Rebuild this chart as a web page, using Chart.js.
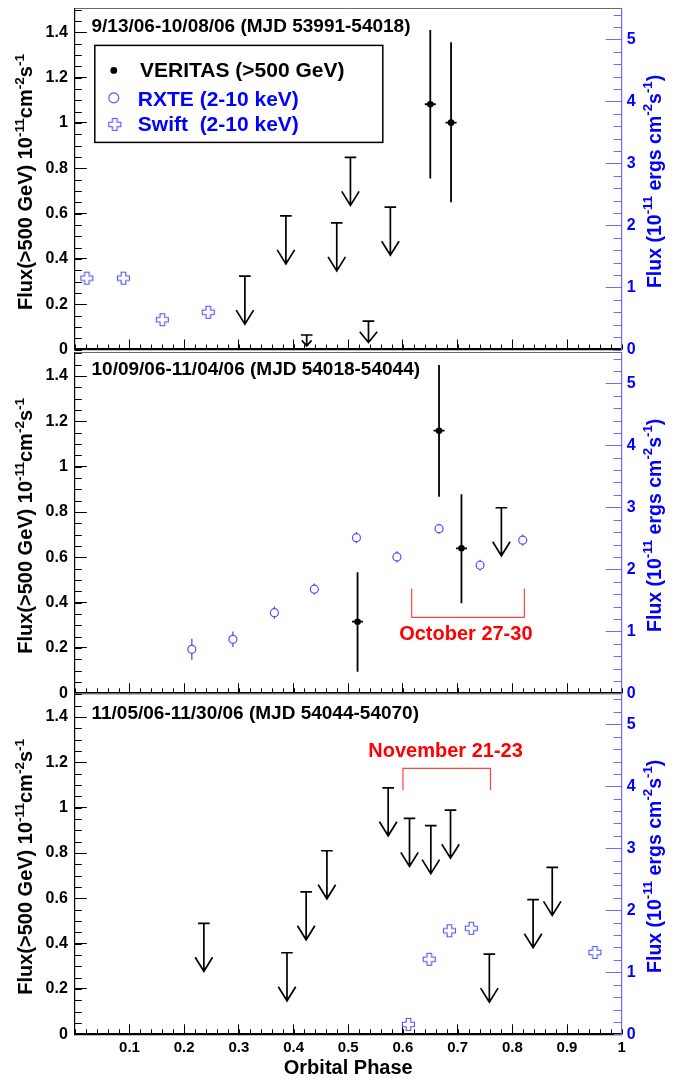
<!DOCTYPE html>
<html><head><meta charset="utf-8">
<script src="https://cdn.jsdelivr.net/npm/chart.js@4.4.1/dist/chart.umd.min.js"></script>
<style>
html,body{margin:0;padding:0;background:#fff;}
#wrap{position:relative;width:678px;height:1081px;overflow:hidden;background:#fff;}
#wrap canvas{position:absolute;left:0;top:0;}
</style></head><body>
<div id="wrap">
<canvas id="c1" width="678" height="1081"></canvas>
<canvas id="c2" width="678" height="1081"></canvas>
<canvas id="c3" width="678" height="1081"></canvas>
</div>
<script>
// ---------------- DATA ----------------
const phaseTicks = [0, 0.1, 0.2, 0.3, 0.4, 0.5, 0.6, 0.7, 0.8, 0.9, 1];
const leftTicks  = [0, 0.2, 0.4, 0.6, 0.8, 1, 1.2, 1.4];
const rightTicks = [0, 1, 2, 3, 4, 5];

// Panel 1: 9/13/06-10/08/06
const p1VerPhase = [0.650, 0.688];
const p1VerFlux  = [1.082, 1.001];
const p1VerLow   = [0.755, 0.650];
const p1VerHigh  = [1.410, 1.356];
const p1UlPhase  = [0.311, 0.386, 0.424, 0.479, 0.504, 0.537, 0.577];
const p1UlFlux   = [0.324, 0.590, 0.064, 0.559, 0.848, 0.125, 0.628];
const p1SwiftPhase = [0.022, 0.089, 0.160, 0.244];
const p1SwiftFlux  = [1.15, 1.15, 0.48, 0.60];

// Panel 2: 10/09/06-11/04/06
const p2VerPhase = [0.517, 0.666, 0.707];
const p2VerFlux  = [0.316, 1.159, 0.640];
const p2VerLow   = [0.095, 0.868, 0.397];
const p2VerHigh  = [0.534, 1.449, 0.878];
const p2UlPhase  = [0.780];
const p2UlFlux   = [0.819];
const p2RxtePhase = [0.214, 0.289, 0.365, 0.438, 0.515, 0.589, 0.666, 0.741, 0.819];
const p2RxteFlux  = [0.71, 0.87, 1.30, 1.68, 2.51, 2.20, 2.655, 2.065, 2.47];
const p2RxteErr   = [0.17, 0.125, 0.10, 0.09, 0.09, 0.09, 0.08, 0.09, 0.09];

// Panel 3: 11/05/06-11/30/06
const p3UlPhase = [0.236, 0.388, 0.423, 0.461, 0.573, 0.612, 0.651, 0.687, 0.758, 0.838, 0.873];
const p3UlFlux  = [0.490, 0.360, 0.629, 0.810, 1.088, 0.953, 0.921, 0.989, 0.354, 0.594, 0.737];
const p3SwiftPhase = [0.610, 0.648, 0.685, 0.725, 0.951];
const p3SwiftFlux  = [0.16, 1.21, 1.67, 1.71, 1.32];

// ---------------- STYLE ----------------
const FONT = '"Liberation Sans", Arial, Helvetica, sans-serif';
const BLUE = '#0000ff', LBLUE = '#4f4fff', AXBLUE = '#6b6bff', RED = '#ff0000', REDL = '#ff4444';

function crossPath(g, x, y, a, b) {
  g.moveTo(x - b, y - a); g.lineTo(x + b, y - a); g.lineTo(x + b, y - b); g.lineTo(x + a, y - b);
  g.lineTo(x + a, y + b); g.lineTo(x + b, y + b); g.lineTo(x + b, y + a); g.lineTo(x - b, y + a);
  g.lineTo(x - b, y + b); g.lineTo(x - a, y + b); g.lineTo(x - a, y - b); g.lineTo(x - b, y - b);
  g.closePath();
}
const crossImg = (() => {
  const c = document.createElement('canvas'); c.width = 15; c.height = 15;
  const g = c.getContext('2d'); g.strokeStyle = LBLUE; g.lineWidth = 1.1;
  g.beginPath(); crossPath(g, 7.5, 7.5, 6, 2.3); g.stroke(); return c;
})();

const pts = (xs, ys) => xs.map((x, i) => ({x: x, y: ys[i]}));
const fmt = v => String(Number(v.toFixed(2)));

function drawRich(ctx, segs, size, color) {
  let x = 0;
  for (const [t, sup] of segs) {
    const s = sup ? size * 0.68 : size;
    ctx.font = 'bold ' + s + 'px ' + FONT;
    ctx.fillStyle = color;
    ctx.fillText(t, x, sup ? -size * 0.42 : 0);
    x += ctx.measureText(t).width;
  }
}
function richWidth(ctx, segs, size) {
  let w = 0;
  for (const [t, sup] of segs) {
    ctx.font = 'bold ' + (sup ? size * 0.68 : size) + 'px ' + FONT;
    w += ctx.measureText(t).width;
  }
  return w;
}
const leftTitle = [['Flux(>500 GeV) 10', 0], ['-11', 1], ['cm', 0], ['-2', 1], ['s', 0], ['-1', 1]];
const rightTitle = [['Flux (10', 0], ['-11', 1], [' ergs cm', 0], ['-2', 1], ['s', 0], ['-1', 1], [')', 0]];

function drawUL(ctx, x, yTop, yTip) {
  const len = yTip - yTop;
  const hh = Math.min(14, 0.5 * len), hw = Math.min(8.7, 0.45 * len);
  ctx.beginPath();
  ctx.moveTo(x - 5.8, yTop); ctx.lineTo(x + 5.8, yTop);
  ctx.moveTo(x, yTop); ctx.lineTo(x, yTip);
  ctx.moveTo(x - hw, yTip - hh); ctx.lineTo(x, yTip); ctx.lineTo(x + hw, yTip - hh);
  ctx.stroke();
}

const panelPlugin = {
  id: 'rootPanel',
  beforeDatasetsDraw(chart) {
    const {ctx, chartArea: a, scales} = chart;
    ctx.save();
    // minor ticks
    ctx.lineWidth = 1;
    ctx.strokeStyle = '#000';
    ctx.beginPath();
    for (let k = 0; k <= 30; k++) {
      const y = Math.round(scales.y.getPixelForValue(k * 0.05)) + 0.5;
      if (y < a.top) continue;
      ctx.moveTo(a.left, y); ctx.lineTo(a.left + 7, y);
    }
    for (let k = 0; k <= 50; k++) {
      const x = Math.round(scales.x.getPixelForValue(k * 0.02)) + 0.5;
      ctx.moveTo(x, a.bottom); ctx.lineTo(x, a.bottom - 5);
    }
    ctx.stroke();
    ctx.strokeStyle = AXBLUE;
    ctx.beginPath();
    for (let k = 0; k <= 27; k++) {
      const y = Math.round(scales.y2.getPixelForValue(k * 0.2)) + 0.5;
      ctx.moveTo(a.right, y); ctx.lineTo(a.right - 8, y);
    }
    ctx.stroke();
    // top frame
    ctx.strokeStyle = '#6a6a6a'; ctx.lineWidth = 1;
    ctx.beginPath(); ctx.moveTo(a.left, Math.round(a.top) + 0.5); ctx.lineTo(a.right, Math.round(a.top) + 0.5); ctx.stroke();

    // error bars
    chart.data.datasets.forEach((ds, di) => {
      const meta = chart.getDatasetMeta(di);
      if (ds.kind === 'veritas') {
        ctx.strokeStyle = '#000'; ctx.lineWidth = 1.8;
        meta.data.forEach((el, j) => {
          const yl = scales.y.getPixelForValue(ds.errLow[j]);
          const yh = scales.y.getPixelForValue(ds.errHigh[j]);
          ctx.beginPath();
          ctx.moveTo(el.x, yh); ctx.lineTo(el.x, yl);
          ctx.moveTo(el.x - 5.5, el.y); ctx.lineTo(el.x + 5.5, el.y);
          ctx.stroke();
        });
      } else if (ds.kind === 'rxte') {
        ctx.strokeStyle = LBLUE; ctx.lineWidth = 1.3;
        meta.data.forEach((el, j) => {
          const v = ds.data[j].y;
          const yl = scales.y2.getPixelForValue(v - ds.err[j]);
          const yh = scales.y2.getPixelForValue(v + ds.err[j]);
          const r = ds.pointRadius;
          ctx.beginPath();
          if (yh < el.y - r) { ctx.moveTo(el.x, yh); ctx.lineTo(el.x, el.y - r); }
          if (yl > el.y + r) { ctx.moveTo(el.x, el.y + r); ctx.lineTo(el.x, yl); }
          ctx.stroke();
        });
      }
    });
    ctx.restore();
  },
  afterDatasetsDraw(chart) {
    const {ctx, chartArea: a, scales} = chart;
    const cfg = chart.options.plugins.rootPanel;
    ctx.save();
    // upper limit arrows
    chart.data.datasets.forEach((ds, di) => {
      if (ds.kind !== 'ul') return;
      const meta = chart.getDatasetMeta(di);
      ctx.strokeStyle = '#000'; ctx.lineWidth = 1.7;
      meta.data.forEach((el, j) => {
        const v = ds.data[j].y;
        const tip = v - Math.min(0.212, 0.75 * v);
        drawUL(ctx, el.x, el.y, scales.y.getPixelForValue(tip));
      });
    });
    // annotation (red bracket)
    if (cfg.note) {
      const n = cfg.note;
      const x1 = scales.x.getPixelForValue(n.span[0]), x2 = scales.x.getPixelForValue(n.span[1]);
      const yb = scales.y.getPixelForValue(n.bar), ye = scales.y.getPixelForValue(n.edge);
      ctx.strokeStyle = REDL; ctx.lineWidth = 1.2;
      ctx.beginPath();
      ctx.moveTo(x1, ye); ctx.lineTo(x1, yb); ctx.lineTo(x2, yb); ctx.lineTo(x2, ye);
      ctx.stroke();
      ctx.fillStyle = RED; ctx.font = 'bold 20px ' + FONT; ctx.textAlign = 'center'; ctx.textBaseline = 'alphabetic';
      ctx.fillText(n.text, scales.x.getPixelForValue(n.at[0]), scales.y.getPixelForValue(n.at[1]));
    }
    // panel title
    ctx.fillStyle = '#000'; ctx.font = 'bold 19px ' + FONT; ctx.textAlign = 'left'; ctx.textBaseline = 'alphabetic';
    ctx.fillText(cfg.title, a.left + 16.7, a.top + cfg.titleDy);
    // axis titles
    const cy = (a.top + a.bottom) / 2;
    ctx.save();
    ctx.translate(32, cy + 3);
    ctx.rotate(-Math.PI / 2);
    ctx.translate(-richWidth(ctx, leftTitle, 20) / 2, 0);
    drawRich(ctx, leftTitle, 20, '#000');
    ctx.restore();
    ctx.save();
    ctx.translate(660.5, cy + 2.5);
    ctx.rotate(-Math.PI / 2);
    ctx.translate(-richWidth(ctx, rightTitle, 19.5) / 2, 0);
    drawRich(ctx, rightTitle, 19.5, BLUE);
    ctx.restore();
    // legend
    if (cfg.legend) {
      const L = a.left, T = a.top;
      ctx.strokeStyle = '#000'; ctx.lineWidth = 1.5;
      ctx.strokeRect(L + 20, T + 37, 288, 97);
      ctx.fillStyle = '#000';
      ctx.beginPath(); ctx.arc(L + 39, T + 62, 3.4, 0, Math.PI * 2); ctx.fill();
      ctx.strokeStyle = LBLUE; ctx.lineWidth = 1.1;
      ctx.beginPath(); ctx.arc(L + 39, T + 89.5, 5, 0, Math.PI * 2); ctx.stroke();
      ctx.drawImage(crossImg, L + 40 - 7.5, T + 116 - 7.5);
      ctx.font = 'bold 21px ' + FONT; ctx.textAlign = 'left';
      ctx.fillStyle = '#000'; ctx.fillText('VERITAS (>500 GeV)', L + 65.2, T + 69);
      ctx.fillStyle = BLUE;
      ctx.fillText('RXTE (2-10 keV)', L + 63, T + 97.7);
      ctx.fillText('Swift  (2-10 keV)', L + 63, T + 123);
    }
    ctx.restore();
  }
};

function makeChart(id, cfg) {
  const yFont = {family: FONT, size: 16, weight: 'bold'};
  const xFont = {family: FONT, size: 15, weight: 'bold'};
  const datasets = [];
  if (cfg.veritas) datasets.push({kind: 'veritas', label: 'VERITAS (>500 GeV)', data: pts(cfg.veritas[0], cfg.veritas[1]), errLow: cfg.veritas[2], errHigh: cfg.veritas[3], yAxisID: 'y', pointStyle: 'circle', pointRadius: 3.3, backgroundColor: '#000', borderColor: '#000', borderWidth: 0});
  if (cfg.ul) datasets.push({kind: 'ul', label: 'VERITAS UL', data: pts(cfg.ul[0], cfg.ul[1]), yAxisID: 'y', pointRadius: 0, borderWidth: 0});
  if (cfg.rxte) datasets.push({kind: 'rxte', label: 'RXTE (2-10 keV)', data: pts(cfg.rxte[0], cfg.rxte[1]), err: cfg.rxte[2], yAxisID: 'y2', pointStyle: 'circle', pointRadius: 4, backgroundColor: 'rgba(0,0,0,0)', borderColor: LBLUE, borderWidth: 1.2});
  if (cfg.swift) datasets.push({kind: 'swift', label: 'Swift (2-10 keV)', data: pts(cfg.swift[0], cfg.swift[1]), yAxisID: 'y2', pointStyle: crossImg, pointRadius: 6});
  const noPad = s => { s.paddingTop = 0; s.paddingBottom = 0; s.paddingLeft = 0; s.paddingRight = 0; };
  return new Chart(document.getElementById(id), {
    type: 'scatter',
    data: {datasets},
    options: {
      responsive: false, animation: false, devicePixelRatio: 1, events: [],
      layout: {autoPadding: false, padding: {left: 0, right: 0, top: cfg.top, bottom: 1081 - cfg.bottom - cfg.xH}},
      plugins: {legend: {display: false}, tooltip: {enabled: false}, rootPanel: cfg},
      scales: {
        x: {
          type: 'linear', position: 'bottom', min: 0, max: 1,
          afterBuildTicks: s => { s.ticks = phaseTicks.map(v => ({value: v})); },
          afterFit: s => { s.height = cfg.xH; noPad(s); },
          ticks: {autoSkip: false, maxRotation: 0, includeBounds: false, padding: 15, color: '#000', font: xFont,
                  callback: v => (cfg.showX && v > 0) ? fmt(v) : ''},
          grid: {drawOnChartArea: false, drawTicks: true, tickLength: -10, tickColor: '#000', tickWidth: 1},
          border: {display: true, color: '#000', width: 2.2},
          title: {display: cfg.showX, text: 'Orbital Phase', color: '#000', font: {family: FONT, size: 20, weight: 'bold'}, padding: 0}
        },
        y: {
          type: 'linear', position: 'left', min: 0, max: 1.505,
          afterBuildTicks: s => { s.ticks = leftTicks.map(v => ({value: v})); },
          afterFit: s => { s.width = 74.8; noPad(s); },
          ticks: {autoSkip: false, includeBounds: false, padding: 19, color: '#000', font: yFont, callback: v => fmt(v)},
          grid: {drawOnChartArea: false, drawTicks: true, tickLength: -12, tickColor: '#000', tickWidth: 1},
          border: {display: true, color: '#000', width: 1.2}
        },
        y2: {
          type: 'linear', position: 'right', min: 0, max: 5.5,
          afterBuildTicks: s => { s.ticks = rightTicks.map(v => ({value: v})); },
          afterFit: s => { s.width = 678 - 621.7; noPad(s); },
          ticks: {autoSkip: false, includeBounds: false, padding: 21, color: BLUE, font: yFont, callback: v => fmt(v)},
          grid: {drawOnChartArea: false, drawTicks: true, tickLength: -16, tickColor: AXBLUE, tickWidth: 1},
          border: {display: true, color: AXBLUE, width: 1.2}
        }
      }
    },
    plugins: [panelPlugin]
  });
}

makeChart('c1', {top: 8.4, bottom: 349.5, xH: 4, showX: false, titleDy: 23.4, legend: true,
  title: '9/13/06-10/08/06 (MJD 53991-54018)',
  veritas: [p1VerPhase, p1VerFlux, p1VerLow, p1VerHigh], ul: [p1UlPhase, p1UlFlux], swift: [p1SwiftPhase, p1SwiftFlux]});
makeChart('c2', {top: 352.3, bottom: 693.3, xH: 4, showX: false, titleDy: 22.7,
  title: '10/09/06-11/04/06 (MJD 54018-54044)',
  veritas: [p2VerPhase, p2VerFlux, p2VerLow, p2VerHigh], ul: [p2UlPhase, p2UlFlux], rxte: [p2RxtePhase, p2RxteFlux, p2RxteErr],
  note: {text: 'October 27-30', span: [0.616, 0.822], bar: 0.335, edge: 0.463, at: [0.715, 0.235]}});
makeChart('c3', {top: 693.3, bottom: 1034.3, xH: 46, showX: true, titleDy: 26,
  title: '11/05/06-11/30/06 (MJD 54044-54070)',
  ul: [p3UlPhase, p3UlFlux], swift: [p3SwiftPhase, p3SwiftFlux],
  note: {text: 'November 21-23', span: [0.600, 0.760], bar: 1.174, edge: 1.078, at: [0.678, 1.222]}});
</script>
</body></html>
